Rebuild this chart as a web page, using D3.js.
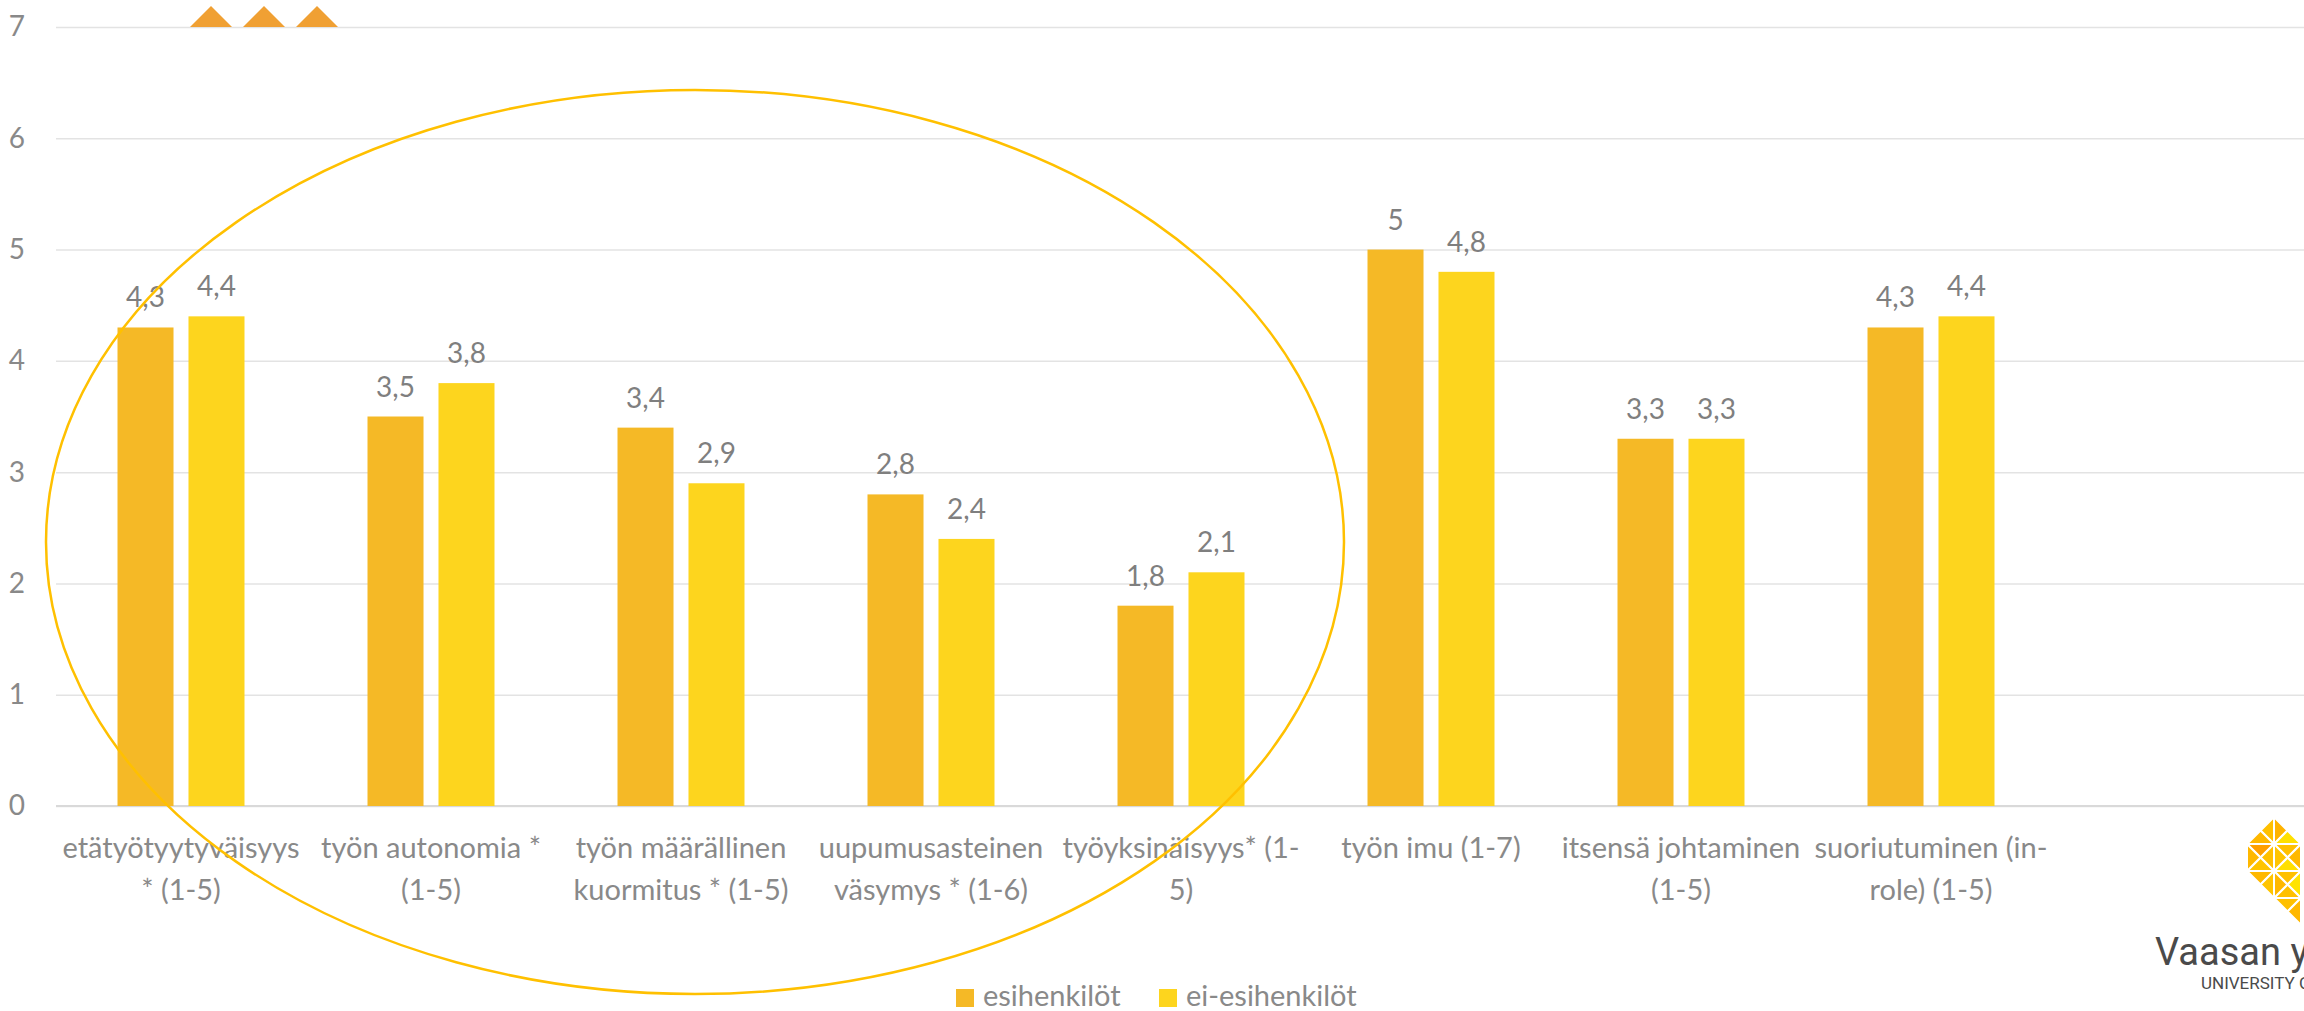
<!DOCTYPE html>
<html>
<head>
<meta charset="utf-8">
<script src="https://cdn.jsdelivr.net/npm/d3@7"></script>
<style>
    body { margin: 0; background: #fff; }
    svg { display: block; font-family: Lato, "Open Sans", sans-serif; }
    .tick text { fill: #898989; }
</style>
</head>
<body>
<svg width="2304" height="1011"></svg>
<script>
// data
var categories = ["etätyötyytyväisyys * (1-5)", "työn autonomia * (1-5)", "työn määrällinen kuormitus * (1-5)",
    "uupumusasteinen väsymys * (1-6)", "työyksinäisyys* (1-5)", "työn imu (1-7)",
    "itsensä johtaminen (1-5)", "suoriutuminen (in-role) (1-5)"];
var labelLines = [["etätyötyytyväisyys", "* (1-5)"], ["työn autonomia *", "(1-5)"], ["työn määrällinen", "kuormitus * (1-5)"],
    ["uupumusasteinen", "väsymys * (1-6)"], ["työyksinäisyys* (1-", "5)"], ["työn imu (1-7)"],
    ["itsensä johtaminen", "(1-5)"], ["suoriutuminen (in-", "role) (1-5)"]];
var series = ["esihenkilöt", "ei-esihenkilöt"];
var esihenkilot = [4.3, 3.5, 3.4, 2.8, 1.8, 5, 3.3, 4.3];
var eiEsihenkilot = [4.4, 3.8, 2.9, 2.4, 2.1, 4.8, 3.3, 4.4];
var yTicks = [0, 1, 2, 3, 4, 5, 6, 7];
var colors = ["#F5B926", "#FDD51E"];
var font = "Lato, 'Open Sans', sans-serif";

var svg = d3.select("svg"),
    margin = { top: 27, left: 56, bottom: 205 },
    fullWidth = +svg.attr("width"),
    plotRight = 2056, // 8 categories of 250px
    yBase = 806;

var data = categories.map(function(c, i) {
    return { cat: c, lines: labelLines[i], values: [esihenkilot[i], eiEsihenkilot[i]] };
});

var x0 = d3.scaleBand().domain(categories).range([margin.left, plotRight])
    .paddingInner(0.492).paddingOuter(0.246);
var x1 = d3.scaleBand().domain(series).range([0, x0.bandwidth()]).paddingInner(0.211);
var y = d3.scaleLinear().domain([0, 7]).range([yBase, margin.top]);

// gridlines + y labels
svg.append("g")
    .attr("class", "axis axis--y")
    .attr("transform", "translate(" + margin.left + ",0)")
    .call(d3.axisLeft(y).tickValues(yTicks).tickFormat(d3.format("d"))
        .tickSize(-(fullWidth - margin.left)).tickPadding(31))
    .attr("font-family", font)
    .attr("font-size", 28)
    .call(function(g) {
        g.select(".domain").remove();
        g.selectAll(".tick line").attr("stroke", "#E3E3E3").attr("stroke-width", 1.5);
    });

// baseline
svg.append("line")
    .attr("x1", margin.left).attr("x2", fullWidth)
    .attr("y1", yBase).attr("y2", yBase)
    .attr("stroke", "#D9D9D9").attr("stroke-width", 2);

// x labels, wrapped like in the original
var xAxis = svg.append("g")
    .attr("class", "axis axis--x")
    .attr("transform", "translate(0," + yBase + ")")
    .call(d3.axisBottom(x0).tickSize(0).tickFormat(""))
    .attr("font-family", font)
    .attr("font-size", 29);
xAxis.select(".domain").remove();
xAxis.selectAll(".tick text").remove();
xAxis.selectAll(".tick").data(data).append("text")
    .attr("text-anchor", "middle")
    .attr("fill", "#898989")
    .selectAll("tspan")
    .data(function(d) { return d.lines; })
    .enter().append("tspan")
    .attr("x", 0)
    .attr("y", function(d, i) { return 52 + i * 42; })
    .text(function(d) { return d; });

// bars
var groups = svg.selectAll(".group")
    .data(data)
    .enter().append("g")
    .attr("class", "group")
    .attr("transform", function(d) { return "translate(" + x0(d.cat) + ",0)"; });

groups.selectAll(".bar")
    .data(function(d) { return d.values.map(function(v, i) { return { key: series[i], value: v, i: i }; }); })
    .enter().append("rect")
    .attr("class", "bar")
    .attr("x", function(d) { return x1(d.key); })
    .attr("y", function(d) { return y(d.value); })
    .attr("width", x1.bandwidth())
    .attr("height", function(d) { return yBase - y(d.value); })
    .attr("fill", function(d) { return colors[d.i]; });

groups.selectAll(".label")
    .data(function(d) { return d.values.map(function(v, i) { return { key: series[i], value: v }; }); })
    .enter().append("text")
    .attr("class", "label")
    .attr("x", function(d) { return x1(d.key) + x1.bandwidth() / 2; })
    .attr("y", function(d) { return y(d.value) - 20; })
    .attr("text-anchor", "middle")
    .attr("font-size", 28)
    .attr("fill", "#7F7F7F")
    .text(function(d) { return String(d.value).replace(".", ","); });

// circled group annotation
svg.append("ellipse")
    .attr("cx", 695).attr("cy", 542)
    .attr("rx", 649).attr("ry", 452)
    .attr("fill", "none")
    .attr("stroke", "#FFC000")
    .attr("stroke-width", 2.5);

// legend
var legend = svg.append("g").attr("class", "legend");
var legendX = [956, 1159];
series.forEach(function(s, i) {
    legend.append("rect")
        .attr("x", legendX[i]).attr("y", 989)
        .attr("width", 18).attr("height", 18)
        .attr("fill", colors[i]);
    legend.append("text")
        .attr("x", legendX[i] + 27).attr("y", 1006)
        .attr("font-size", 29)
        .attr("fill", "#898989")
        .text(s);
});

// slide decoration: three triangles at the top
[190, 243, 296].forEach(function(tx) {
    svg.append("path")
        .attr("d", "M" + tx + ",27 L" + (tx + 21) + ",6 L" + (tx + 42) + ",27 Z")
        .attr("fill", "#F0A033");
});

// university logo (cropped at the right edge)
var logo = svg.append("g").attr("class", "logo");
var cell = 27, lx = 2247, ly = 817;
// [row, col, part, colour] parts: t r b l of a cell split by its diagonals
var logoTris = [
    [0, 0, "r", "#FFC000"], [0, 0, "b", "#FFB800"], [0, 1, "l", "#FFB300"], [0, 1, "b", "#FFE000"],
    [1, 0, "t", "#FF9F00"], [1, 0, "r", "#FFC000"], [1, 0, "b", "#FFC400"], [1, 0, "l", "#FFB800"],
    [1, 1, "t", "#FFC000"], [1, 1, "r", "#FFB800"], [1, 1, "b", "#FFDF00"], [1, 1, "l", "#FFC400"],
    [2, 0, "t", "#FFB800"], [2, 0, "r", "#FFC400"], [2, 1, "t", "#FFC000"], [2, 1, "r", "#FFE300"],
    [2, 1, "b", "#FFC000"], [2, 1, "l", "#FFB800"], [3, 1, "t", "#FFC000"], [3, 1, "r", "#FFB800"]
];
logoTris.forEach(function(t) {
    var x = lx + t[1] * cell, yy = ly + t[0] * cell, cx = x + cell / 2, cy = yy + cell / 2;
    var pts = {
        t: [[x, yy], [x + cell, yy]],
        r: [[x + cell, yy], [x + cell, yy + cell]],
        b: [[x + cell, yy + cell], [x, yy + cell]],
        l: [[x, yy + cell], [x, yy]]
    }[t[2]];
    logo.append("path")
        .attr("d", "M" + pts[0] + "L" + pts[1] + "L" + cx + "," + cy + "Z")
        .attr("fill", t[3])
        .attr("stroke", "#fff")
        .attr("stroke-width", 2);
});
logo.append("text")
    .attr("x", 2155).attr("y", 965)
    .attr("font-family", "Roboto, sans-serif")
    .attr("font-size", 38)
    .attr("fill", "#4A4A4A")
    .text("Vaasan yliopisto");
logo.append("text")
    .attr("x", 2201).attr("y", 989)
    .attr("font-family", "Roboto, sans-serif")
    .attr("font-size", 17)
    .attr("fill", "#4A4A4A")
    .text("UNIVERSITY OF VAASA");
</script>
</body>
</html>
